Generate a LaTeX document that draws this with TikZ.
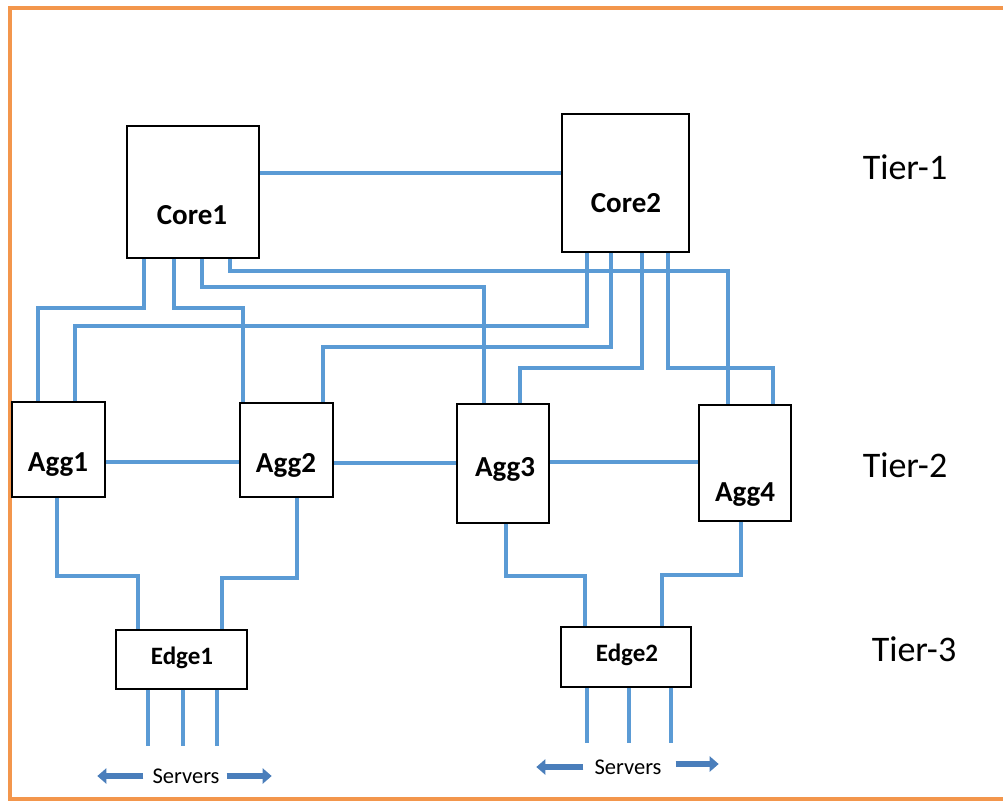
\documentclass[tikz,border=0pt]{standalone}
\usepackage{fontspec}
\setmainfont{Carlito}
\usetikzlibrary{arrows.meta}

\definecolor{linkblue}{RGB}{91,155,213}
\definecolor{arrowblue}{RGB}{74,126,187}
\definecolor{frameorange}{RGB}{243,150,76}

\tikzstyle{switch}=[rectangle,draw=black,line width=1.6pt,inner sep=0pt]
\tikzstyle{swname}=[font=\fontsize{29}{30}\selectfont\bfseries]
\tikzstyle{edgename}=[font=\fontsize{25}{26}\selectfont\bfseries]
\tikzstyle{tier}=[font=\fontsize{36}{38}\selectfont]
\tikzstyle{servers}=[font=\fontsize{22.5}{24}\selectfont,inner sep=0pt]
\tikzstyle{link}=[draw=linkblue,line width=4.2pt]
\tikzstyle{srvarrow}=[draw=arrowblue,line width=5.5pt,-{Triangle[length=9pt,width=15pt]}]

\begin{document}
\begin{tikzpicture}[x=1pt,y=-1pt]
    \useasboundingbox (0,0) rectangle (1003,801);
    \draw[frameorange,line width=4pt] (1003,8) -- (10,8) -- (10,799) -- (1003,799);

    % switches
    \foreach \pos/\w/\h/\name in {{(193,192)/132/132/core1}, {(625.5,183)/127/138/core2},
                                  {(58.5,449.5)/93/95/agg1}, {(286.5,450)/93/94/agg2},
                                  {(503,463.5)/92/119/agg3}, {(745,463)/92/116/agg4},
                                  {(181.5,659.5)/131/59/edge1}, {(626,657)/130/60/edge2}}
        \node[switch,minimum width=\w pt,minimum height=\h pt] (\name) at \pos {};
    \foreach \pos/\name/\txt in {{(192,215)/core1txt/Core1}, {(626,203)/core2txt/Core2},
                                 {(58,465)/agg1txt/Agg1}, {(286,465)/agg2txt/Agg2},
                                 {(505,469)/agg3txt/Agg3}, {(745,495)/agg4txt/Agg4}}
        \node[swname] (\name) at \pos {\txt};
    \node[edgename] (edge1txt) at (182,658) {Edge1};
    \node[edgename] (edge2txt) at (627,655) {Edge2};

    % tiers
    \node[tier] (tier1) at (905,167) {Tier-1};
    \node[tier] (tier2) at (905,465) {Tier-2};
    \node[tier] (tier3) at (914,649) {Tier-3};

    % links between neighbours
    \path[link] (core1.east |- 0,173) -- (core2.west |- 0,173);
    \foreach \source/\dest/\y in {agg1/agg2/462, agg2/agg3/463, agg3/agg4/462}
        \path[link] (\source.east |- 0,\y) -- (\dest.west |- 0,\y);

    % core to aggregation
    \foreach \source/\xa/\ym/\xb/\dest in {core1/144/308/38/agg1, core1/174/308/243/agg2,
                                           core1/202/287/484/agg3, core1/230/271/728/agg4,
                                           core2/587/326/75/agg1, core2/611/347/323/agg2,
                                           core2/642/368/520/agg3, core2/668/368/773/agg4}
        \path[link] (\source.south -| \xa,0) |- (\xb,\ym) -- (\dest.north -| \xb,0);

    % aggregation to edge
    \foreach \source/\xa/\ym/\xb/\dest in {agg1/57/576/138/edge1, agg2/297/578/222/edge1,
                                           agg3/506/576/585/edge2, agg4/741/575/662/edge2}
        \path[link] (\source.south -| \xa,0) |- (\xb,\ym) -- (\dest.north -| \xb,0);

    % server ports
    \foreach \x in {148,183,217}
        \path[link] (edge1.south -| \x,0) -- ++(0,56);
    \foreach \x in {587,629,671}
        \path[link] (edge2.south -| \x,0) -- ++(0,55);

    \node[servers] (srv1) at (186,776) {Servers};
    \node[servers] (srv2) at (628,767) {Servers};
    \draw[srvarrow] ([xshift=-9pt]srv1.west) -- ++(-46,0);
    \draw[srvarrow] ([xshift=7pt]srv1.east) -- ++(45,0);
    \draw[srvarrow] ([xshift=-11pt]srv2.west) -- ++(-47,0);
    \draw[srvarrow] ([xshift=14pt,yshift=3pt]srv2.east) -- ++(43,0);
\end{tikzpicture}
\end{document}
